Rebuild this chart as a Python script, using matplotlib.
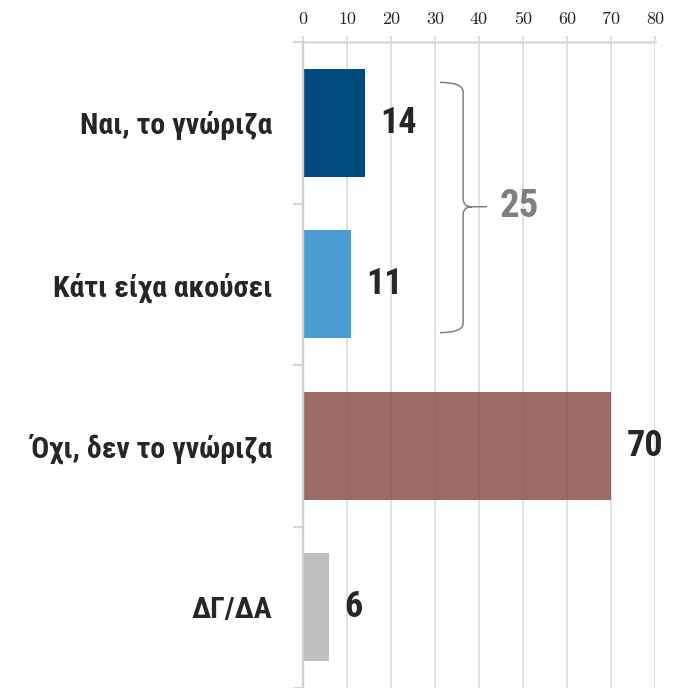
import matplotlib
matplotlib.use("Agg")
import matplotlib.pyplot as plt
from matplotlib.path import Path
from matplotlib.patches import PathPatch
from matplotlib import font_manager
from matplotlib.font_manager import FontProperties
from matplotlib.ft2font import FT2Font

categories = ["Ναι, το γνώριζα", "Κάτι είχα ακούσει", "Όχι, δεν το γνώριζα", "ΔΓ/ΔΑ"]
values = [14, 11, 70, 6]
bar_colors = ["#024b81", "#4d9dd5", "#8f5552", "#bfbfbf"]
bar_alphas = [1.0, 1.0, 0.88, 1.0]
xticks = [0, 10, 20, 30, 40, 50, 60, 70, 80]
bracket_total = values[0] + values[1]


def has_greek(path):
    try:
        f = FT2Font(path)
        return all(f.get_char_index(ord(c)) != 0 for c in "ΝαώΌΔΓ")
    except Exception:
        return False


def find_font(cands):
    fl = font_manager.fontManager.ttflist
    for name, stretch in cands:
        for f in fl:
            if f.name == name and f.style == "normal" and str(f.weight) in ("700", "bold") \
                    and (stretch is None or str(f.stretch) == stretch) and has_greek(f.fname):
                return f.fname
    return None


bold_path = find_font([("Liberation Sans Narrow", None), ("Arial Narrow", None),
                       ("Roboto Condensed", None), ("Open Sans Condensed", None),
                       ("Fira Sans Condensed", None), ("Noto Sans", "condensed"),
                       ("DejaVu Sans", "condensed")])
if bold_path:
    def lab_fp(size):
        return FontProperties(fname=bold_path, size=size)
else:
    def lab_fp(size):
        return FontProperties(family=["Liberation Sans", "DejaVu Sans"], weight="bold", size=size * 0.88)

tick_family = ["cmr10", "DejaVu Serif"]
plt.rcParams["axes.formatter.use_mathtext"] = True

grid_c = "#d9d9d9"
text_c = "#262626"

fig = plt.figure(figsize=(6.89, 6.88), dpi=100)
ax = fig.add_axes([303 / 689, 0.0, 352 / 689, 1 - 42 / 688])

ypos = list(range(len(categories)))
for y, v, c, a in zip(ypos, values, bar_colors, bar_alphas):
    ax.barh(y, v, height=0.667, color=c, alpha=a, zorder=2, linewidth=0)
    ax.annotate(str(v), xy=(v, y), xytext=(11, 0), textcoords="offset points",
                ha="left", va="center", fontproperties=lab_fp(26), color=text_c)

ax.set_xlim(0, 80)
ax.set_ylim(3.5, -0.5)
ax.set_axisbelow(True)

# x axis on top
ax.xaxis.tick_top()
ax.set_xticks(xticks)
ax.set_xticklabels([str(t) for t in xticks], family=tick_family, fontsize=13, color=text_c)
ax.tick_params(axis="x", which="major", length=4, width=1.1, color=grid_c, pad=6.5)
ax.grid(axis="x", color=grid_c, linewidth=1.1, zorder=0)

# y axis
ax.set_yticks(ypos)
ax.set_yticklabels(categories, color=text_c)
for t in ax.get_yticklabels():
    t.set_fontproperties(lab_fp(21.5))
ax.tick_params(axis="y", which="major", length=0, pad=22)
ax.set_yticks([-0.5, 0.5, 1.5, 2.5, 3.5], minor=True)
ax.tick_params(axis="y", which="minor", length=7.5, width=1.6, color=grid_c)

for s in ["right", "bottom"]:
    ax.spines[s].set_visible(False)
ax.spines["left"].set_color("#cfcfcf")
ax.spines["left"].set_linewidth(1.7)
ax.spines["left"].set_zorder(3)
ax.spines["top"].set_color(grid_c)
ax.spines["top"].set_linewidth(1.8)

# bracket
x0, xv, xt = 31.1, 36.4, 41.8
yt, ym, yb = -0.25, 0.52, 1.30
verts = [(x0, yt), (xv, yt), (xv, yt + 0.06),
         (xv, ym - 0.05),
         (xv, ym), (xv + 2.0, ym),
         (xt, ym),
         (xv + 2.0, ym),
         (xv, ym), (xv, ym + 0.05),
         (xv, yb - 0.06),
         (xv, yb), (x0, yb)]
codes = [Path.MOVETO, Path.CURVE3, Path.CURVE3,
         Path.LINETO,
         Path.CURVE3, Path.CURVE3,
         Path.LINETO,
         Path.MOVETO,
         Path.CURVE3, Path.CURVE3,
         Path.LINETO,
         Path.CURVE3, Path.CURVE3]
ax.add_patch(PathPatch(Path(verts, codes), facecolor="none", edgecolor="#7f7f7f",
                       linewidth=1.1, zorder=4, clip_on=False))
ax.text(44.6, ym, str(bracket_total), ha="left", va="center",
        fontproperties=lab_fp(28), color="#7f7f7f")

fig.savefig("out.png", dpi=100)
